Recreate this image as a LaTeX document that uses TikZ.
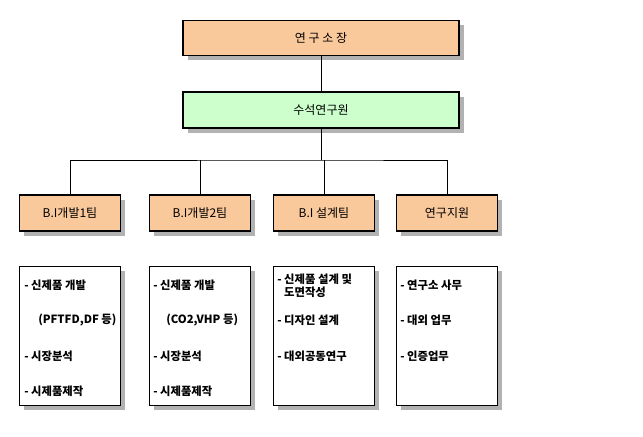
\documentclass[tikz,border=0pt]{standalone}
\usepackage{fontspec}
\setmainfont{Noto Sans CJK KR}
\usetikzlibrary{shadows, positioning}
\definecolor{peach}{HTML}{F9C89B}
\definecolor{mint}{HTML}{CCFFCC}
\tikzset{
  box/.style={rectangle, draw=black, thick, inner sep=0pt,
              drop shadow={shadow xshift=3.5pt, shadow yshift=-3.5pt, fill=black!30, opacity=1}},
  head/.style={box, fill=peach, minimum width=207pt, minimum height=26pt, font=\small},
  chief/.style={box, fill=mint, minimum width=207pt, minimum height=27pt, font=\small},
  team/.style={box, fill=peach, minimum width=76pt, minimum height=27pt, font=\small},
  duty/.style={box, draw=black, semithick, fill=white, minimum width=76pt, minimum height=104pt},
  item/.style={font=\fontsize{8.5}{10}\selectfont\bfseries, anchor=west, align=left, inner sep=0pt},
  link/.style={draw=black, semithick},
}
\begin{document}
\begin{tikzpicture}[x=0.75pt, y=-0.75pt]
  \useasboundingbox (0,0) rectangle (643,436);

  \node[head]  (dir)   at (321,38)  {연 구 소 장};
  \node[chief] (chief) at (321,110) {수석연구원};

  \node[team] (t1) at (70,213)  {B.I개발1팀};
  \node[team] (t2) at (200,213) {B.I개발2팀};
  \node[team] (t3) at (324,213) {B.I 설계팀};
  \node[team] (t4) at (447,213) {연구지원};

  \node[duty] (d1) at (70,336)  {};
  \node[duty] (d2) at (200,336) {};
  \node[duty] (d3) at (324,336) {};
  \node[duty] (d4) at (447,336) {};

  \coordinate (bus) at (321,160);
  \draw[link] (dir) -- (chief);
  \draw[link] (chief) -- (bus);
  \draw[link] (t1.north) |- (bus) -| (t4.north);
  \draw[link] (t2.north) -- (t2.north |- bus);
  \draw[link] (t3.north) -- (t3.north |- bus);

  % duties
  \node[item] (a1) at (24,285) {- 신제품 개발};
  \node[item] (a2) at (38,320) {(PFTFD,DF 등)};
  \node[item] (a3) at (24,356) {- 시장분석};
  \node[item] (a4) at (24,391) {- 시제품제작};

  \node[item] (b1) at (153,285) {- 신제품 개발};
  \node[item] (b2) at (166,320) {(CO2,VHP 등)};
  \node[item] (b3) at (153,356) {- 시장분석};
  \node[item] (b4) at (153,391) {- 시제품제작};

  \node[item] (c1) at (277,286) {- 신제품 설계 및\\\phantom{- }도면작성};
  \node[item] (c2) at (277,320) {- 디자인 설계};
  \node[item] (c3) at (277,356) {- 대외공동연구};

  \node[item] (e1) at (400,285) {- 연구소 사무};
  \node[item] (e2) at (400,320) {- 대외 업무};
  \node[item] (e3) at (400,356) {- 인증업무};
\end{tikzpicture}
\end{document}
